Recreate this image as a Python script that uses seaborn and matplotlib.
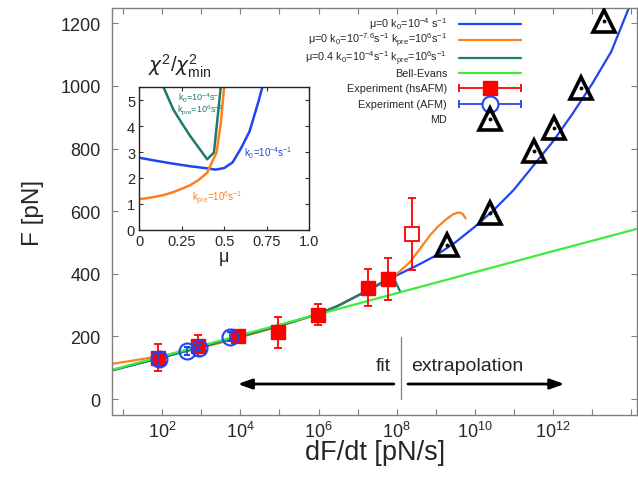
import numpy as np
import matplotlib
matplotlib.use("Agg")
import matplotlib.pyplot as plt
import seaborn as sns
from matplotlib.lines import Line2D
from matplotlib.ticker import NullLocator

# -----------------------------
# DATA  (rates as log10 of dF/dt in pN/s, forces in pN)
# -----------------------------
blue_logr = [0.7, 2, 3, 4, 5, 6, 6.5, 7, 7.5, 8, 8.5, 9, 9.5, 10, 10.5, 11, 11.5, 12, 12.5, 13, 13.5, 14]
blue_F = [91, 133, 167, 200, 234, 272, 298, 330, 362, 395, 425, 458, 500, 550, 605, 668, 745, 822, 910, 1005, 1110, 1265]

orange_logr = [0.7, 1.5, 2.5, 3.5, 4.5, 5.5, 6, 6.5, 7, 7.5, 8, 8.34, 8.6, 8.85, 9.05, 9.28, 9.45, 9.58, 9.68, 9.77]
orange_F = [112, 128, 150, 180, 215, 252, 270, 297, 330, 364, 399, 437, 480, 522, 550, 575, 590, 596, 593, 577]

teal_logr = [0.7, 2, 3, 4, 5, 6, 6.5, 7, 7.5, 7.9, 8.1]
teal_F = [92, 133, 166, 200, 234, 272, 298, 330, 364, 393, 341]

green_logr = [0.7, 4, 8, 12, 14.17]
green_F = [93, 204, 338, 472, 544]

hs_logr = [1.89, 2.91, 3.94, 4.96, 5.99, 7.27, 7.78]
hs_F = [132, 171, 200, 213, 270, 356, 383]
hs_err = [43, 33, 15, 50, 35, 58, 66]

hs_out_logr = [8.4]
hs_out_F = [527]
hs_out_err = [114]

afm_logr = [1.91, 2.63, 2.94, 3.73]
afm_F = [127, 154, 164, 199]
afm_err = [20, 12, 12, 15]

md_logr = [9.28, 10.39, 11.52, 12.02, 12.72, 13.3]
md_F = [492, 594, 793, 866, 995, 1206]

# inset: chi^2 / chi^2_min vs mu
in_blue_mu = [0, 0.1, 0.2, 0.3, 0.4, 0.45, 0.5, 0.55, 0.6, 0.65, 0.7, 0.725]
in_blue_chi = [2.78, 2.66, 2.55, 2.45, 2.37, 2.32, 2.38, 2.6, 3.15, 3.8, 4.9, 5.5]
in_orange_mu = [0, 0.05, 0.1, 0.15, 0.2, 0.25, 0.3, 0.35, 0.4, 0.455, 0.48, 0.5]
in_orange_chi = [1.18, 1.22, 1.28, 1.35, 1.45, 1.58, 1.72, 1.92, 2.2, 2.98, 4.1, 5.5]
in_teal_mu = [0.143, 0.2, 0.25, 0.3, 0.35, 0.4, 0.44, 0.48]
in_teal_chi = [5.5, 4.65, 4.12, 3.62, 3.17, 2.72, 2.98, 5.5]

xticks_exp = list(range(1, 15))

# -----------------------------
# STYLE
# -----------------------------
sns.set_theme(style="ticks")
plt.rcParams['font.family'] = ['Liberation Sans', 'DejaVu Sans']
plt.rcParams['mathtext.fontset'] = 'custom'
plt.rcParams['mathtext.rm'] = 'Liberation Sans'
plt.rcParams['mathtext.it'] = 'DejaVu Sans:italic'
plt.rcParams['mathtext.bf'] = 'Liberation Sans:bold'

BLUE = '#1f44f2'
ORANGE = '#ff7f1f'
TEAL = '#1d7a6e'
GREEN = '#3ced3c'
RED = '#ff0000'
GRAY = '#7f7f7f'

fig = plt.figure(figsize=(6.38, 4.81), dpi=100)
ax = fig.add_axes([0.1755, 0.1351, 0.8237, 0.8462])
ax.set_xscale('log')
ax.set_xlim(10**0.71, 10**14.17)
ax.set_ylim(-51, 1249)

# -----------------------------
# CURVES
# -----------------------------
lw = 1.6
sns.lineplot(x=10**np.array(blue_logr), y=blue_F, ax=ax, color=BLUE, lw=lw,
             estimator=None, sort=False, legend=False)
sns.lineplot(x=10**np.array(orange_logr), y=orange_F, ax=ax, color=ORANGE, lw=lw,
             estimator=None, sort=False, legend=False)
sns.lineplot(x=10**np.array(teal_logr), y=teal_F, ax=ax, color=TEAL, lw=lw,
             estimator=None, sort=False, legend=False)
sns.lineplot(x=10**np.array(green_logr), y=green_F, ax=ax, color=GREEN, lw=lw,
             estimator=None, sort=False, legend=False)

# -----------------------------
# DATA POINTS
# -----------------------------
ax.errorbar(10**np.array(hs_logr), hs_F, yerr=hs_err, fmt='s', color=RED, ms=10.5,
            capsize=3, elinewidth=1.3, capthick=1.3, zorder=5)
ax.errorbar(10**np.array(hs_out_logr), hs_out_F, yerr=hs_out_err, fmt='s', color=RED,
            mfc='white', mec=RED, mew=1.3, ms=10.5, capsize=3, elinewidth=1.3,
            capthick=1.3, zorder=5)
ax.errorbar(10**np.array(afm_logr), afm_F, yerr=afm_err, fmt='o', color=BLUE, mfc='none',
            mec=BLUE, mew=1.5, ms=11.5, capsize=2.2, elinewidth=1.2, capthick=1.2, zorder=6)
ax.plot(10**np.array(md_logr), md_F, '^', ms=16, mfc='none', mec='black', mew=2.6, zorder=7)
ax.plot(10**np.array(md_logr), md_F, '.', ms=3.5, color='black', zorder=7)

# -----------------------------
# FIT / EXTRAPOLATION
# -----------------------------
ax.plot([10**8.12, 10**8.12], [0, 198], color=GRAY, lw=0.9)
ax.annotate('', xy=(10**3.86, 48), xytext=(10**8.0, 48),
            arrowprops=dict(arrowstyle='-|>,head_length=0.7,head_width=0.25', color='black', lw=2))
ax.annotate('', xy=(10**12.37, 48), xytext=(10**8.22, 48),
            arrowprops=dict(arrowstyle='-|>,head_length=0.7,head_width=0.25', color='black', lw=2))
ax.text(10**7.85, 106, 'fit', ha='right', va='center', fontsize=14)
ax.text(10**8.38, 106, 'extrapolation', ha='left', va='center', fontsize=14)

# -----------------------------
# AXES
# -----------------------------
ax.xaxis.set_minor_locator(NullLocator())
ax.yaxis.set_minor_locator(NullLocator())
ax.set_xticks([10.0**e for e in xticks_exp])
ax.set_xticklabels([r'$10^{%d}$' % e if e % 2 == 0 and e < 14 else '' for e in xticks_exp])
ax.set_yticks([0, 200, 400, 600, 800, 1000, 1200])
ax.tick_params(which='both', direction='in', top=True, right=True, length=4.5,
               width=0.8, color=GRAY, labelsize=13)
ax.tick_params(axis='y', pad=8)
ax.tick_params(axis='x', pad=4)
for s in ax.spines.values():
    s.set_color(GRAY)
    s.set_linewidth(1.0)
ax.set_xlabel('dF/dt [pN/s]', fontsize=19.5, labelpad=-1)
ax.set_ylabel('F [pN]', fontsize=17.5, labelpad=12)

# -----------------------------
# LEGEND (gnuplot style: text left, sample right)
# -----------------------------
def fx(px):
    return px / 638

def fy(py):
    return 1 - py / 481

labels = [
    r'μ=0 k$_0$=10$^{-4}$ s$^{-1}$',
    r'μ=0 k$_0$=10$^{-7.6}$s$^{-1}$ k$_{\rm pre}$=10$^6$s$^{-1}$',
    r'μ=0.4 k$_0$=10$^{-4}$s$^{-1}$ k$_{\rm pre}$=10$^6$s$^{-1}$',
    'Bell-Evans',
    'Experiment (hsAFM)',
    'Experiment (AFM)',
    'MD',
]
leg_x_text, leg_x0, leg_x1, leg_xm = 447, 459, 521, 490
leg_rows = [25, 41, 58.5, 73.5, 89, 104.5, 119.5]
for i, lab in enumerate(labels):
    yy = leg_rows[i]
    fig.text(fx(leg_x_text), fy(yy + 3.5), lab, ha='right', va='baseline', fontsize=7.8)
    if i < 4:
        c = [BLUE, ORANGE, TEAL, GREEN][i]
        fig.add_artist(Line2D([fx(leg_x0), fx(leg_x1)], [fy(yy), fy(yy)], color=c, lw=lw,
                              transform=fig.transFigure))
    elif i in (4, 5):
        c = RED if i == 4 else BLUE
        fig.add_artist(Line2D([fx(leg_x0), fx(leg_x1)], [fy(yy), fy(yy)], color=c, lw=1.3,
                              marker='|', ms=6, mew=1.3, transform=fig.transFigure))
        if i == 4:
            fig.add_artist(Line2D([fx(leg_xm)], [fy(yy)], color=RED, marker='s', ms=10.5,
                                  ls='none', transform=fig.transFigure))
        else:
            fig.add_artist(Line2D([fx(leg_xm)], [fy(yy)], color=BLUE, marker='o', ms=11.5,
                                  mfc='white', mew=1.5, ls='none', transform=fig.transFigure))
    else:
        fig.add_artist(Line2D([fx(leg_xm)], [fy(yy)], color='black', marker='^', ms=16,
                              mfc='none', mew=2.6, ls='none', transform=fig.transFigure))
        fig.add_artist(Line2D([fx(leg_xm)], [fy(yy)], color='black', marker='.', ms=3.5,
                              ls='none', transform=fig.transFigure))

# -----------------------------
# INSET
# -----------------------------
axin = fig.add_axes([0.2183, 0.5204, 0.266, 0.296])
axin.set_facecolor('white')
sns.lineplot(x=in_blue_mu, y=in_blue_chi, ax=axin, color=BLUE, lw=1.8,
             estimator=None, sort=False, legend=False)
sns.lineplot(x=in_teal_mu, y=in_teal_chi, ax=axin, color=TEAL, lw=1.8,
             estimator=None, sort=False, legend=False)
sns.lineplot(x=in_orange_mu, y=in_orange_chi, ax=axin, color=ORANGE, lw=1.8,
             estimator=None, sort=False, legend=False)
axin.set_xlim(0, 1)
axin.set_ylim(0, 5.5)
axin.set_xticks([0, 0.25, 0.5, 0.75, 1.0])
axin.set_xticklabels(['0', '0.25', '0.5', '0.75', '1.0'])
axin.set_yticks([0, 1, 2, 3, 4, 5])
axin.tick_params(direction='in', top=True, right=True, length=3, width=0.8,
                 color='#333333', labelsize=10.5, pad=3)
for s in axin.spines.values():
    s.set_color('#222222')
    s.set_linewidth(1.0)
axin.set_xlabel('μ', fontsize=13, labelpad=0)
axin.set_ylabel('')
axin.text(0.05, 1.06, r'$\chi^2/\chi^2_{\rm min}$', transform=axin.transAxes,
          fontsize=14.5, ha='left', va='bottom')

axin.text(0.23, 5.12, r'k$_0$=10$^{-4}$s$^{-1}$', color=TEAL, fontsize=6.5, ha='left', va='center')
axin.text(0.22, 4.64, r'k$_{\rm pre}$=10$^{6}$s$^{-1}$', color=TEAL, fontsize=6.5, ha='left', va='center')
axin.text(0.62, 3.0, r'k$_0$=10$^{-4}$s$^{-1}$', color=BLUE, fontsize=7, ha='left', va='center')
axin.text(0.31, 1.21, r'k$_{\rm pre}$=10$^{6}$s$^{-1}$', color=ORANGE, fontsize=7, ha='left', va='center')

fig.savefig('out.png', dpi=100)
